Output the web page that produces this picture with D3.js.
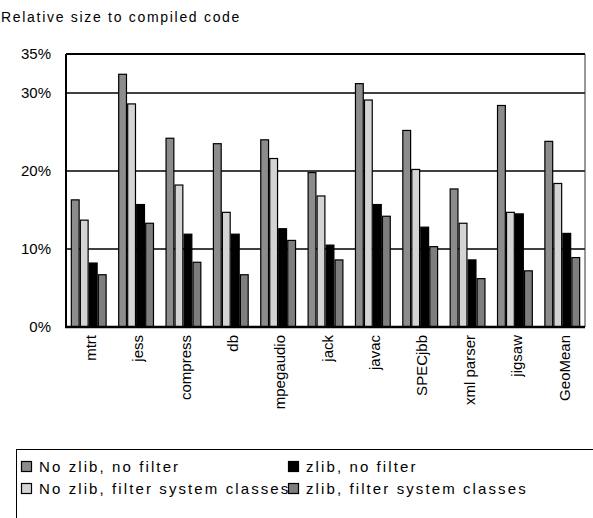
<!DOCTYPE html>
<html>
<head>
<meta charset="utf-8">
<script src="https://cdn.jsdelivr.net/npm/d3@7"></script>
<style>
  body { margin: 0; background: #fff; }
  svg text { font-family: Arial, "Liberation Sans", sans-serif; fill: #000; }
</style>
</head>
<body>
<div id="chart"></div>
<script>
// benchmarks and the four configurations (percent of compiled code size)
const categories = ['mtrt', 'jess', 'compress', 'db', 'mpegaudio', 'jack', 'javac', 'SPECjbb', 'xml parser', 'jigsaw', 'GeoMean'];
const seriesNames = ['No zlib, no filter', 'No zlib, filter system classes', 'zlib, no filter', 'zlib, filter system classes'];
const noZlibNoFilter = [16.3, 32.4, 24.2, 23.5, 24.0, 19.8, 31.2, 25.2, 17.7, 28.4, 23.8];
const noZlibFilter = [13.7, 28.6, 18.2, 14.7, 21.6, 16.8, 29.1, 20.2, 13.3, 14.7, 18.4];
const zlibNoFilter = [8.2, 15.7, 11.9, 11.9, 12.6, 10.5, 15.7, 12.8, 8.6, 14.5, 12.0];
const zlibFilter = [6.7, 13.3, 8.3, 6.7, 11.1, 8.6, 14.2, 10.3, 6.2, 7.2, 8.9];
const yTicks = [0, 10, 20, 30, 35];
const colors = ['#8c8c8c', '#d4d4d4', '#000000', '#7e7e7e'];

const series = [noZlibNoFilter, noZlibFilter, zlibNoFilter, zlibFilter];

const width = 593, height = 518;
const plot = { left: 66, right: 585, top: 54, bottom: 327 };

const svg = d3.select('#chart').append('svg')
  .attr('width', width).attr('height', height);

// title
svg.append('text')
  .attr('x', 1).attr('y', 22)
  .style('font-size', '14px')
  .style('letter-spacing', '1.7px')
  .text('Relative size to compiled code');

const y = d3.scaleLinear().domain([0, 35]).range([plot.bottom, plot.top]);
const x0 = d3.scaleBand().domain(categories).range([plot.left, plot.right])
  .paddingInner(0.24).paddingOuter(0.1);
const x1 = d3.scaleBand().domain(d3.range(series.length)).range([0, x0.bandwidth()]);

// gridlines
svg.append('g')
  .selectAll('line').data(yTicks.filter(t => t > 0 && t < 35))
  .enter().append('line')
  .attr('x1', plot.left).attr('x2', plot.right)
  .attr('y1', d => y(d)).attr('y2', d => y(d))
  .attr('stroke', '#000').attr('stroke-width', 1.3);

// y labels
svg.append('g')
  .selectAll('text').data(yTicks)
  .enter().append('text')
  .attr('x', 51).attr('y', d => y(d))
  .attr('dy', '0.35em')
  .attr('text-anchor', 'end')
  .style('font-size', '15px')
  .text(d => d + '%');

// bars
const groups = svg.append('g')
  .selectAll('g').data(categories)
  .enter().append('g')
  .attr('transform', d => `translate(${x0(d)},0)`);

groups.selectAll('rect')
  .data((d, i) => series.map((s, k) => ({ k: k, v: s[i] })))
  .enter().append('rect')
  .attr('x', d => x1(d.k) + 0.6)
  .attr('width', x1.bandwidth() - 1.2)
  .attr('y', d => y(d.v))
  .attr('height', d => y(0) - y(d.v))
  .attr('fill', d => colors[d.k])
  .attr('stroke', '#000').attr('stroke-width', 1.2);

// plot frame
svg.append('line').attr('x1', plot.left).attr('x2', plot.right)
  .attr('y1', plot.top).attr('y2', plot.top)
  .attr('stroke', '#000').attr('stroke-width', 2.2);
svg.append('line').attr('x1', plot.right).attr('x2', plot.right)
  .attr('y1', plot.top).attr('y2', plot.bottom)
  .attr('stroke', '#333').attr('stroke-width', 1);
svg.append('line').attr('x1', plot.left).attr('x2', plot.left)
  .attr('y1', plot.top).attr('y2', plot.bottom)
  .attr('stroke', '#000').attr('stroke-width', 2);
svg.append('line').attr('x1', plot.left - 1).attr('x2', plot.right)
  .attr('y1', plot.bottom).attr('y2', plot.bottom)
  .attr('stroke', '#000').attr('stroke-width', 2.5);

// category labels, rotated
svg.append('g')
  .selectAll('text').data(categories)
  .enter().append('text')
  .attr('transform', d => `translate(${x0(d) + x0.bandwidth() / 2 + 2},${plot.bottom + 8}) rotate(-90)`)
  .attr('dy', '0.35em')
  .attr('text-anchor', 'end')
  .style('font-size', '15px')
  .text(d => d);

// legend
const legend = svg.append('g');
legend.append('rect')
  .attr('x', 16.5).attr('y', 449.5)
  .attr('width', 590).attr('height', 100)
  .attr('fill', 'none').attr('stroke', '#000');

// column 1 = series 0,1 ; column 2 = series 2,3
const item = legend.selectAll('g').data(seriesNames)
  .enter().append('g')
  .attr('transform', (d, i) => `translate(${i < 2 ? 21 : 288},${i % 2 === 0 ? 461 : 483})`);
item.append('rect')
  .attr('x', 0.5).attr('y', 0.5)
  .attr('width', 10).attr('height', 10)
  .attr('fill', (d, i) => colors[i])
  .attr('stroke', '#000').attr('stroke-width', 1.2);
item.append('text')
  .attr('x', 18).attr('y', 5.5)
  .attr('dy', '0.35em')
  .style('font-size', '15px')
  .style('letter-spacing', '2.1px')
  .text(d => d);
</script>
</body>
</html>
